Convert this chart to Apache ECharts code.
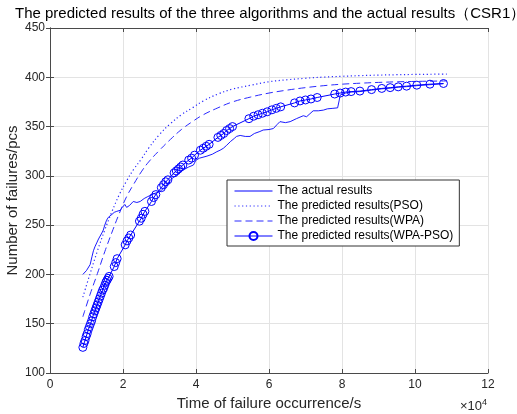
<!DOCTYPE html>
<html><head><meta charset="utf-8">
<script src="https://cdn.jsdelivr.net/npm/echarts@6/dist/echarts.min.js"></script>
<style>html,body{margin:0;padding:0;background:#fff}#c{width:517px;height:414px}</style>
</head><body><div id="c"></div><script>
// x values in units of 10^4 s
const titleText = 'The predicted results of the three algorithms and the actual results（CSR1）';
const xName = 'Time of failure occurrence/s';
const yName = 'Number of failures/pcs';
const seriesNames = ['The actual results','The predicted results(PSO)','The predicted results(WPA)','The predicted results(WPA-PSO)'];

const actualT = [0.90,0.95,1.00,1.05,1.10,1.15,1.19,1.23,1.28,1.33,1.37,1.42,1.46,1.50,1.55,1.60,1.64,1.70,1.76,1.83,1.92,1.98,2.05,2.10,2.18,2.28,2.38,2.47,2.58,2.68,2.74,2.85,3.01,3.10,3.20,3.30,3.40,3.50,3.65,3.80,3.93,4.00,4.10,4.30,4.45,4.57,4.66,4.75,4.84,4.95,5.05,5.11,5.21,5.35,5.48,5.60,5.75,5.84,6.00,6.12,6.22,6.30,6.45,6.58,6.75,6.94,7.03,7.12,7.21,7.35,7.49,7.60,7.75,7.88,7.92,7.95,8.10,8.25,8.49,8.81,9.09,9.32,9.54,9.77,10.05,10.41,10.78];
const actualY = [200,202,204,206,210,218,224,228,232,236,238,242,245,250,255,258,260,261,263,264,265,268,271,268,270,274,273,274,277,279,280,282,284,287,291,296,299,302,306,309,311,316,318,320,322,324.5,326,328,331,335,338,340,341,340,340,343,345,346.5,347,348,352,355,354,355,358,361,360,363,366,366,366.7,368,368.5,369,376,382,384,385,385.5,387,388.3,389,390,390.5,391.5,392.5,393.5];

const predT = [0.9,1.1,1.3,1.5,1.7,1.9,2.1,2.3,2.5,2.7,3.0,3.3,3.6,3.9,4.2,4.6,5.0,5.5,6.0,6.5,7.0,7.5,8.0,8.5,9.0,9.5,10.0,10.5,10.87];
const psoY = [177,201,224,245,264,281,295,307,317,328,342,353,362,369,376,383,388,392,395.5,397.5,399,400.2,401,401.7,402.2,402.6,402.9,403.1,403.2];
const wpaY = [157,180,201,223,243,262,279,292,304,314,326,337,347,355,362,369,375,380,384,387,389.5,391.5,393,394,394.8,395.4,395.8,396.1,396.3];

const hybT = [0.90,0.93,0.96,0.99,1.02,1.05,1.08,1.11,1.14,1.17,1.20,1.23,1.26,1.29,1.32,1.35,1.38,1.41,1.44,1.47,1.50,1.53,1.56,1.59,1.62,
  1.76,1.80,1.84,2.06,2.11,2.16,2.21,2.45,2.50,2.55,2.60,2.78,2.84,2.90,3.05,3.11,3.17,3.23,3.40,3.46,3.52,3.58,3.64,3.80,3.88,3.96,
  4.12,4.20,4.28,4.36,4.60,4.68,4.76,4.84,4.92,5.00,5.45,5.58,5.70,5.82,5.95,6.08,6.20,6.32,6.70,6.85,7.00,7.15,7.32,7.80,7.95,8.10,8.25,
  8.49,8.81,9.09,9.32,9.54,9.77,10.05,10.41,10.78];
const hybY = [126,130,133,137,140,144,147,150,153,157,160,163,166,169,172,175,178,181,184,186,189,192,194,196,198,
  208,212,216,230,234,237,240,254,257,261,264,274,278,281,288,291,294,296,303,305,307,309,311,316,318,321,
  326,328,330,332,339,341,343,346,348,350,358,360.5,362,363.5,365,367,368.5,370,374,376,377,378,379.5,383,384,385,385.5,
  386,387.5,388.7,389.5,390.3,391,392,393,393.7];

const zip = (a,b) => a.map((v,i) => [v,b[i]]);
const FONT = 'Liberation Sans, Arial, sans-serif';
const AX = '#4a4a4a';
const GRID = '#e3e3e3';
const chart = echarts.init(document.getElementById('c'), null, {renderer:'canvas'});
const blue = '#0000ff';
const noMark = {color:'transparent',borderWidth:0,opacity:0};
chart.setOption({
  animation:false,
  backgroundColor:'#fff',
  title:{text:titleText,left:10,top:1,textStyle:{fontFamily:FONT,fontSize:15,fontWeight:'normal',color:'#000'}},
  grid:{left:50,right:29,top:28,bottom:41,containLabel:false,outerBoundsMode:'none'},
  legend:{orient:'vertical',left:227,top:180,
    data:[{name:seriesNames[0],itemStyle:noMark},{name:seriesNames[1],itemStyle:noMark},{name:seriesNames[2],itemStyle:noMark},{name:seriesNames[3]}],
    backgroundColor:'#fff',borderColor:'#333',borderWidth:1,borderRadius:0,
    padding:[4,6,3,7],itemGap:1,itemWidth:38,itemHeight:10,
    lineStyle:{width:1},
    textStyle:{fontFamily:FONT,fontSize:12,color:'#000',lineHeight:14}},
  xAxis:[
    {type:'value',min:0,max:12,interval:2,position:'bottom',
     name:xName,nameLocation:'middle',nameGap:23,nameMoveOverlap:false,nameTextStyle:{fontFamily:FONT,fontSize:15,color:'#262626'},
     axisLine:{show:true,lineStyle:{color:AX,width:1}},
     axisTick:{show:true,inside:true,length:4,lineStyle:{color:AX}},
     axisLabel:{fontFamily:FONT,fontSize:12,color:'#262626',margin:6},
     splitLine:{show:true,lineStyle:{color:GRID,width:1}}},
    {type:'value',min:0,max:12,interval:2,position:'top',
     axisLine:{show:true,lineStyle:{color:AX,width:1}},
     axisTick:{show:true,inside:true,length:4,lineStyle:{color:AX}},
     axisLabel:{show:false},splitLine:{show:false}}
  ],
  yAxis:[
    {type:'value',min:100,max:450,interval:50,position:'left',
     name:yName,nameLocation:'middle',nameGap:30,nameMoveOverlap:false,nameTextStyle:{fontFamily:FONT,fontSize:15,color:'#262626'},
     axisLine:{show:true,lineStyle:{color:AX,width:1}},
     axisTick:{show:true,inside:true,length:4,lineStyle:{color:AX}},
     axisLabel:{fontFamily:FONT,fontSize:12,color:'#262626',margin:5},
     splitLine:{show:true,lineStyle:{color:GRID,width:1}}},
    {type:'value',min:100,max:450,interval:50,position:'right',
     axisLine:{show:true,lineStyle:{color:AX,width:1}},
     axisTick:{show:true,inside:true,length:4,lineStyle:{color:AX}},
     axisLabel:{show:false},splitLine:{show:false}}
  ],
  series:[
    {name:seriesNames[0],type:'line',data:zip(actualT,actualY),symbol:'none',
     lineStyle:{color:blue,width:0.9},itemStyle:{color:blue},z:2},
    {name:seriesNames[1],type:'line',data:zip(predT,psoY),symbol:'none',smooth:0.4,
     lineStyle:{color:'#2a2aff',width:1.2,type:[1.2,2.6]},itemStyle:{color:'#2a2aff'},z:2},
    {name:seriesNames[2],type:'line',data:zip(predT,wpaY),symbol:'none',smooth:0.4,
     lineStyle:{color:'#2a2aff',width:1,type:[7,4]},itemStyle:{color:'#2a2aff'},z:2},
    {name:seriesNames[3],type:'line',data:zip(hybT,hybY),symbol:'circle',symbolSize:8,showAllSymbol:true,
     lineStyle:{color:blue,width:1},itemStyle:{color:'transparent',borderColor:blue,borderWidth:1},z:3}
  ],
  graphic:[{type:'text',right:30,top:398,style:{text:'×10{s|4}',fontFamily:FONT,fontSize:13,fill:'#262626',
    rich:{s:{fontSize:9,verticalAlign:'top',fill:'#262626',padding:[0,0,7,0]}}}}]
});
</script></body></html>
